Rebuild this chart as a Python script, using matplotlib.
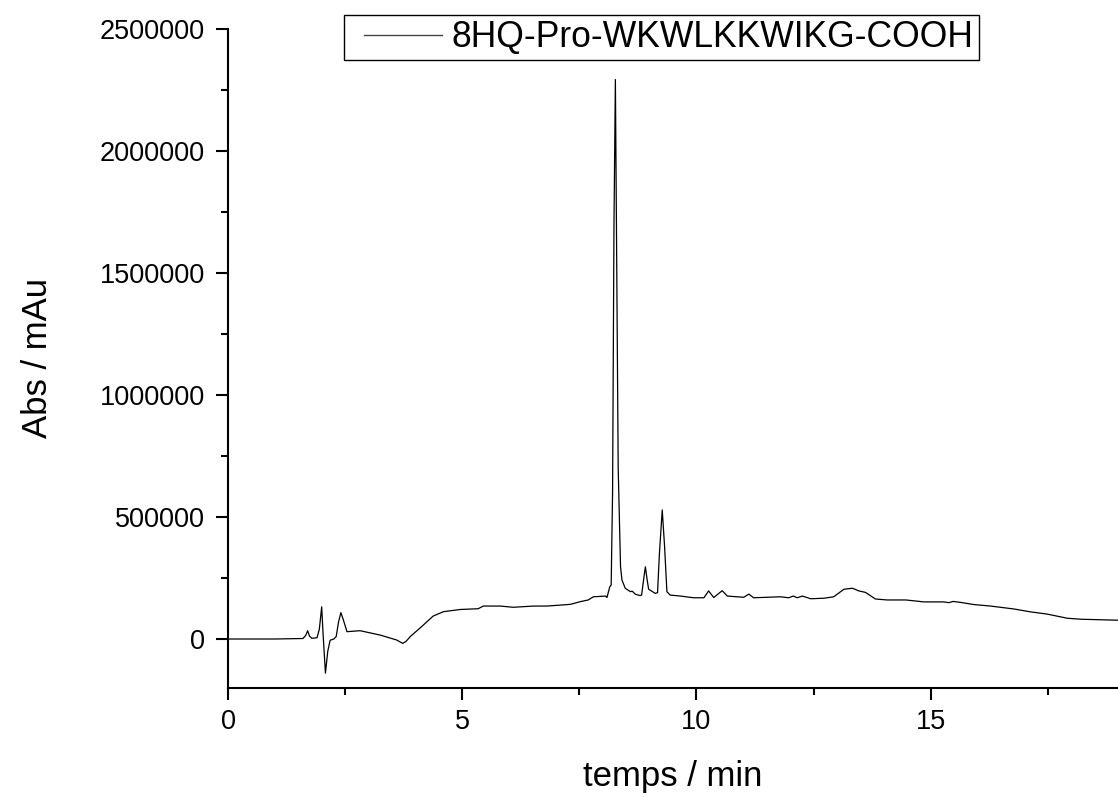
import matplotlib
matplotlib.use("Agg")
import matplotlib.pyplot as plt
from matplotlib.ticker import MultipleLocator, FormatStrFormatter
from matplotlib.legend_handler import HandlerLine2D

plt.rcParams['font.family'] = ['Liberation Sans', 'DejaVu Sans']

series_label = "8HQ-Pro-WKWLKKWIKG-COOH"
x_label = "temps / min"
y_label = "Abs / mAu"

time_min = [0.0, 1.0, 1.6, 1.66, 1.70, 1.74, 1.79, 1.90, 1.95, 2.00, 2.03, 2.08, 2.13, 2.18,
            2.26, 2.31, 2.36, 2.41, 2.46, 2.54, 2.82, 3.25, 3.6, 3.73, 3.8, 3.89, 4.10, 4.38,
            4.6, 4.96, 5.34, 5.45, 5.81, 6.09, 6.52, 6.81, 7.31, 7.52, 7.69, 7.8, 8.06, 8.09,
            8.15, 8.18, 8.21, 8.24, 8.27, 8.30, 8.33, 8.38, 8.41, 8.48, 8.59, 8.63, 8.7, 8.8,
            8.83, 8.87, 8.91, 8.95, 8.98, 9.12, 9.17, 9.21, 9.27, 9.32, 9.37, 9.44, 9.66, 9.94,
            10.16, 10.26, 10.37, 10.55, 10.66, 11.01, 11.12, 11.22, 11.51, 11.79, 11.97, 12.07,
            12.15, 12.26, 12.44, 12.72, 12.93, 13.15, 13.33, 13.47, 13.61, 13.82, 14.07, 14.47,
            14.86, 15.28, 15.39, 15.48, 15.64, 15.93, 16.28, 16.78, 17.14, 17.49, 17.92, 18.21,
            19.0]
absorbance = [0, 0, 2000, 15000, 34000, 12000, 3000, 5000, 40000, 132000, 20000, -140000,
              -50000, -5000, 0, 10000, 70000, 108000, 80000, 30000, 34000, 16000, -4000,
              -18000, -10000, 10000, 45000, 94000, 112000, 121000, 124000, 135000, 135000,
              130000, 135000, 135000, 142000, 153000, 160000, 173000, 176000, 170000, 214000,
              221000, 600000, 1700000, 2293000, 1500000, 700000, 296000, 242000, 208000,
              194000, 196000, 183000, 178000, 180000, 240000, 296000, 240000, 204000, 187000,
              190000, 350000, 529000, 380000, 194000, 180000, 176000, 169000, 169000, 197000,
              170000, 198000, 176000, 171000, 184000, 169000, 171000, 173000, 169000, 176000,
              169000, 176000, 165000, 167000, 173000, 204000, 208000, 197000, 191000, 164000,
              160000, 160000, 152000, 152000, 149000, 154000, 150000, 141000, 135000, 123000,
              111000, 102000, 85000, 81000, 77000]

fig = plt.figure(figsize=(11.18, 7.97), dpi=100)
ax = fig.add_axes([228/1118, 1 - 687.8/797, 1 - 228/1118, (687.8 - 29)/797])

line, = ax.plot(time_min, absorbance, color='black', linewidth=0.9, label=series_label)

ax.set_xlim(0, 19)
ax.set_ylim(-200000, 2500000)
ax.xaxis.set_major_locator(MultipleLocator(5))
ax.xaxis.set_minor_locator(MultipleLocator(2.5))
ax.yaxis.set_major_locator(MultipleLocator(500000))
ax.yaxis.set_minor_locator(MultipleLocator(250000))
ax.yaxis.set_major_formatter(FormatStrFormatter('%d'))
ax.xaxis.set_major_formatter(FormatStrFormatter('%d'))

for s in ['top', 'right']:
    ax.spines[s].set_visible(False)
for s in ['left', 'bottom']:
    ax.spines[s].set_linewidth(1.5)

ax.tick_params(which='major', direction='out', length=8.6, width=1.5, labelsize=19.5)
ax.tick_params(which='minor', direction='out', length=5, width=1.5)
ax.tick_params(axis='x', which='major', pad=7)
ax.tick_params(axis='y', which='major', pad=8)

ax.set_xlabel(x_label, fontsize=25, labelpad=18)
ax.set_ylabel(y_label, fontsize=25, labelpad=33)

leg = ax.legend(handler_map={line: HandlerLine2D(xpad=0.42)},
                loc='upper left', bbox_to_anchor=((344 - 228) / 890, 1 + 14 / 658.8),
                fontsize=25.6, frameon=True, fancybox=False, framealpha=1,
                edgecolor='black', handlelength=2.62, borderpad=0.14, handletextpad=0.27,
                borderaxespad=0)
leg.get_frame().set_linewidth(1.0)
for h in leg.get_lines():
    h.set_color('#444444')
    h.set_linewidth(1.0)

fig.savefig("out.png", dpi=100)
